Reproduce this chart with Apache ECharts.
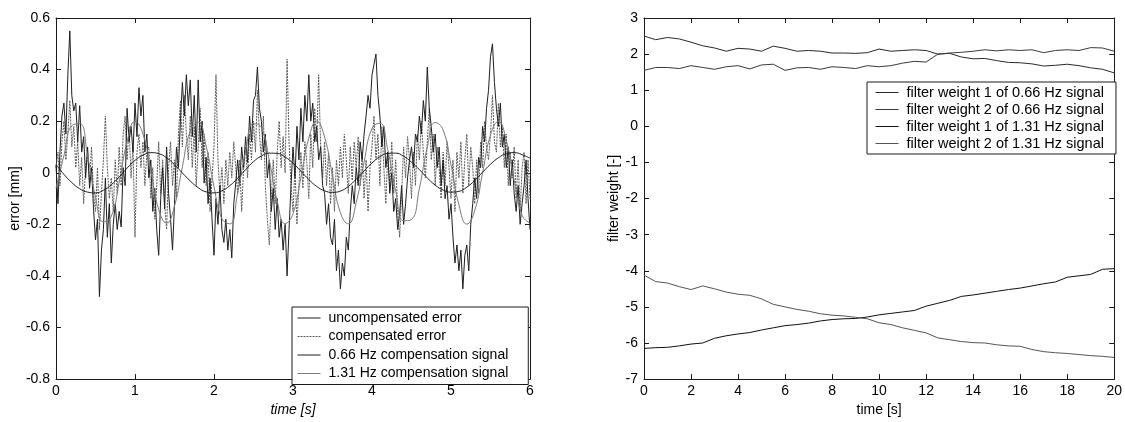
<!DOCTYPE html>
<html>
<head>
<meta charset="utf-8">
<script src="https://cdn.jsdelivr.net/npm/echarts@6/dist/echarts.min.js"></script>
<style>
  html, body { margin: 0; padding: 0; background: #fff; }
  #chart { width: 1125px; height: 422px; }
</style>
</head>
<body>
<div id="chart"></div>
<script>
// ---------- left panel: error signals over 0..6 s ----------
const errorStep = 0.025;          // s between samples of the error traces
const signalStep = 0.1;           // s between samples of the compensation signals

const uncompensatedError = [
  0.03, -0.12, 0.08, 0.22,   0.27, 0.15, 0.38, 0.55,   0.30, 0.24, 0.27, 0.12,   0.26, 0.08, 0.14, -0.02,
  0.10, -0.06, 0.02, -0.14,  -0.26, -0.18, -0.48, -0.30, -0.22, -0.02, -0.25, -0.12, -0.35, -0.20, -0.12, -0.22,
  -0.15, -0.21, 0.02, -0.05, 0.25, 0.12, 0.18, 0.08,   0.27, 0.14, 0.33, 0.22,   0.30, 0.08, 0.15, -0.02,
  0.05, -0.15, -0.06, -0.22, -0.32, -0.10, 0.02, -0.14, 0.10, -0.08, -0.18, -0.30, -0.12, 0.10, 0.02, 0.20,
  0.35, 0.22, 0.38, 0.26,   0.36, 0.14, 0.30, 0.08,   0.36, 0.12, 0.20, -0.04,  0.06, -0.12, -0.02, -0.18,
  -0.32, -0.10, -0.20, -0.05, -0.22, -0.27, -0.18, -0.30, -0.22, -0.33, -0.12, -0.04, 0.05, -0.05, 0.10, 0.02,
  0.14, 0.04, 0.22, 0.12,   0.28, 0.30, 0.41, 0.25,   0.20, 0.08, 0.15, -0.02,  0.05, -0.15, -0.06, -0.22,
  -0.10, -0.25, -0.18, -0.30, -0.20, -0.40, -0.22, -0.05, 0.10, -0.02, 0.18, 0.05,  0.25, 0.12, 0.30, 0.20,
  0.38, 0.20, 0.27, 0.12,   0.18, 0.05, 0.10, -0.05,  -0.08, -0.20, -0.12, -0.25, -0.28, -0.18, -0.38, -0.30,
  -0.45, -0.35, -0.40, -0.25, -0.30, -0.15, -0.05, -0.12, 0.02, -0.05, 0.12, 0.05,  0.15, 0.22, 0.30, 0.25,
  0.38, 0.42, 0.46, 0.30,   0.22, 0.10, 0.18, 0.02,   0.08, -0.08, 0.00, -0.15,  -0.10, -0.22, -0.16, -0.05,
  -0.20, -0.12, -0.02, 0.05, 0.10, 0.02, 0.15, 0.12,   0.22, 0.15, 0.28, 0.20,   0.41, 0.25, 0.18, 0.08,
  0.15, 0.02, 0.10, -0.05,  0.05, -0.10, -0.05, -0.18, -0.12, -0.25, -0.35, -0.28, -0.38, -0.30, -0.45, -0.32,
  -0.28, -0.38, -0.20, -0.12, -0.02, -0.10, 0.06, 0.02,  0.18, 0.12, 0.25, 0.32,   0.45, 0.50, 0.35, 0.25,
  0.18, 0.27, 0.10, 0.15,   0.02, 0.10, -0.05, 0.05,  -0.08, -0.15, -0.05, -0.20, -0.12, -0.05, 0.05, -0.10,
  -0.22
];

const compensatedError = [
  0.02, 0.08, -0.05, 0.12,   0.20, 0.05, 0.15, 0.28,   0.10, 0.18, 0.02, 0.12,   -0.05, 0.06, -0.12, 0.02,
  0.08, -0.04, 0.10, -0.08,  -0.15, 0.02, -0.22, -0.08,  0.05, 0.22, 0.02, -0.10,  -0.02, -0.15, 0.05, -0.08,
  0.10, -0.05, 0.15, 0.22,   0.05, 0.18, -0.02, 0.10,  -0.25, 0.08, 0.15, 0.02,   0.12, -0.05, 0.08, 0.10,
  -0.10, 0.02, -0.18, -0.05, 0.12, -0.08, 0.05, -0.12,  -0.22, 0.02, 0.12, -0.05,  0.05, -0.10, 0.15, 0.28,
  0.10, 0.30, 0.15, 0.05,   0.22, 0.02, 0.18, -0.05,   0.10, 0.25, 0.02, 0.15,   -0.05, 0.08, -0.15, -0.02,
  0.10, 0.38, 0.05, -0.08,  0.02, -0.12, 0.05, -0.05,  0.08, -0.02, 0.12, 0.02,   -0.08, 0.05, -0.15, 0.02,
  0.10, -0.02, 0.15, 0.05,  0.20, 0.08, 0.32, 0.15,    0.05, 0.22, -0.05, -0.18,  -0.28, -0.10, 0.05, -0.12,
  0.08, 0.20, 0.02, 0.14,   0.00, 0.44, 0.12, -0.05,   -0.15, 0.02, -0.20, -0.05, 0.08, -0.06, 0.12, 0.04,
  -0.10, 0.15, 0.02, 0.25,  0.12, 0.38, 0.10, -0.02,   0.12, -0.05, 0.08, -0.12,  0.02, -0.15, 0.05, -0.05,
  0.10, -0.02, 0.15, 0.05,  -0.08, 0.10, -0.03, 0.12,  0.02, 0.14, -0.05, 0.08,   -0.10, 0.05, -0.15, 0.02,
  0.10, 0.22, 0.05, 0.15,   -0.05, 0.18, 0.02, -0.12,  0.08, -0.05, 0.12, -0.08,  0.05, -0.15, -0.25, -0.08,
  0.10, -0.02, 0.14, 0.05,  -0.10, 0.08, -0.05, 0.15,  0.05, 0.20, 0.08, -0.02,   0.12, 0.25, 0.05, 0.15,
  -0.05, 0.10, 0.02, -0.10, 0.08, -0.05, 0.12, 0.02,   -0.10, 0.05, -0.15, 0.08,  -0.02, 0.12, -0.08, 0.05,
  0.15, -0.05, 0.10, 0.02,  -0.12, 0.05, -0.08, 0.12,  0.02, 0.20, 0.10, 0.05,    0.15, 0.30, 0.12, 0.08,
  0.27, 0.10, 0.18, 0.02,   0.15, -0.05, 0.08, -0.02,  0.10, -0.10, 0.05, -0.15,  0.02, 0.08, -0.12, 0.05,
  -0.10
];

const signal066 = [
  0.032, -0.006, -0.038, -0.062, -0.075, -0.078, -0.068, -0.046, -0.016, 0.018,
  0.048, 0.068, 0.078, 0.074, 0.058, 0.031, -0.001, -0.032, -0.058, -0.074,
  -0.078, -0.070, -0.050, -0.021, 0.012, 0.043, 0.065, 0.076, 0.075, 0.061,
  0.037, 0.006, -0.026, -0.053, -0.070, -0.076, -0.071, -0.053, -0.025, 0.007,
  0.038, 0.062, 0.075, 0.076, 0.064, 0.041, 0.012, -0.020, -0.048, -0.067,
  -0.075, -0.072, -0.056, -0.030, 0.002, 0.033, 0.058, 0.074, 0.078, 0.070,
  0.056
];

const signal131 = [
  -0.060, 0.066, 0.183, 0.190, 0.066, -0.094, -0.190, -0.169, -0.036, 0.120,
  0.199, 0.151, 0.006, -0.142, -0.195, -0.129, 0.024, 0.162, 0.196, 0.104,
  -0.054, -0.178, -0.198, -0.077, 0.083, 0.190, 0.175, 0.048, -0.110, -0.197,
  -0.159, -0.018, 0.134, 0.200, 0.138, -0.012, -0.155, -0.198, -0.115, 0.042,
  0.172, 0.192, 0.089, -0.071, -0.186, -0.181, -0.060, 0.099, 0.195, 0.166,
  0.031, -0.124, -0.199, -0.147, 0.000, 0.146, 0.199, 0.125, -0.030, -0.165,
  -0.195
];

// ---------- right panel: adaptive filter weights over 0..20 s ----------
const weightStep = 0.5;

const weight1Hz066 = [
  2.50, 2.40, 2.46, 2.42, 2.33, 2.23, 2.17, 2.08, 2.16, 2.14,
  2.08, 2.22, 2.16, 2.08, 2.10, 2.08, 2.03, 2.03, 2.02, 2.04,
  2.14, 2.08, 2.10, 2.12, 2.10, 2.00, 2.02, 1.92, 1.87, 1.88,
  1.82, 1.77, 1.76, 1.73, 1.67, 1.69, 1.72, 1.68, 1.62, 1.58,
  1.48
];
const weight2Hz066 = [
  1.55, 1.63, 1.63, 1.60, 1.68, 1.63, 1.58, 1.65, 1.68, 1.59,
  1.70, 1.72, 1.55, 1.62, 1.63, 1.58, 1.65, 1.63, 1.60, 1.68,
  1.65, 1.68, 1.75, 1.80, 1.78, 2.00, 2.03, 2.05, 2.08, 2.12,
  2.09, 2.12, 2.10, 2.12, 2.04, 2.10, 2.12, 2.10, 2.18, 2.17,
  2.08
];
const weight1Hz131 = [
  -6.15, -6.13, -6.12, -6.08, -6.03, -6.00, -5.87, -5.80, -5.75, -5.71,
  -5.64, -5.58, -5.52, -5.49, -5.45, -5.39, -5.35, -5.33, -5.32, -5.28,
  -5.22, -5.18, -5.14, -5.10, -4.98, -4.90, -4.82, -4.71, -4.67, -4.62,
  -4.57, -4.52, -4.48, -4.42, -4.36, -4.31, -4.18, -4.14, -4.10, -3.96,
  -3.94
];
const weight2Hz131 = [
  -4.12, -4.30, -4.34, -4.44, -4.52, -4.42, -4.50, -4.59, -4.65, -4.68,
  -4.78, -4.93, -5.00, -5.07, -5.12, -5.19, -5.23, -5.25, -5.29, -5.33,
  -5.44, -5.49, -5.58, -5.65, -5.72, -5.86, -5.91, -5.96, -5.99, -6.00,
  -6.05, -6.08, -6.09, -6.18, -6.24, -6.27, -6.29, -6.32, -6.35, -6.37,
  -6.40
];

const leftNames = [
  'uncompensated error',
  'compensated error',
  '0.66 Hz compensation signal',
  '1.31 Hz compensation signal'
];
const rightNames = [
  'filter weight 1 of 0.66 Hz signal',
  'filter weight 2 of 0.66 Hz signal',
  'filter weight 1 of 1.31 Hz signal',
  'filter weight 2 of 1.31 Hz signal'
];

// ---------- helpers ----------
const FONT = '"Liberation Sans", Arial, sans-serif';
const INK = '#1a1a1a';
const FS = 14;

function pairs(values, step) {
  return values.map((v, i) => [+(i * step).toFixed(3), v]);
}

function boxAxes(gridIndex, min, max, interval, isX, withName) {
  const common = {
    gridIndex, type: 'value', min, max, interval,
    splitLine: { show: false },
    axisLine: { show: true, onZero: false, lineStyle: { color: INK, width: 1 } },
    axisTick: { show: true, inside: true, length: 5, lineStyle: { color: INK } }
  };
  const main = Object.assign({}, common, {
    position: isX ? 'bottom' : 'left',
    axisLabel: { color: '#000', fontFamily: FONT, fontSize: FS, margin: isX ? 5 : 6 }
  }, withName || {});
  const opposite = Object.assign({}, common, {
    position: isX ? 'top' : 'right',
    axisLabel: { show: false }
  });
  return [main, opposite];
}

function lineSeries(name, data, xi, yi, color, type) {
  return {
    name, type: 'line', data, xAxisIndex: xi, yAxisIndex: yi,
    symbol: 'none', animation: false, silent: true,
    lineStyle: { color, width: 1, type: type || 'solid' },
    itemStyle: { color }
  };
}

// legend keys are plain line samples: the symbol part is hidden
const legendBase = {
  orient: 'vertical',
  itemWidth: 23, itemHeight: 14,
  itemStyle: { opacity: 0, borderWidth: 0 },
  lineStyle: { width: 1 },
  backgroundColor: '#fff',
  borderColor: INK, borderWidth: 1, borderRadius: 0,
  textStyle: { color: '#000', fontFamily: FONT, fontSize: FS, padding: [0, 0, 0, 3] },
  selectedMode: false
};

const nameStyle = { color: '#000', fontFamily: FONT, fontSize: FS };

const [lx0, lx1] = boxAxes(0, 0, 6, 1, true, {
  name: 'time [s]', nameLocation: 'middle', nameGap: 22,
  nameTextStyle: Object.assign({ fontStyle: 'italic' }, nameStyle)
});
const [ly0, ly1] = boxAxes(0, -0.8, 0.6, 0.2, false, {
  name: 'error [mm]', nameLocation: 'middle', nameGap: 34, nameTextStyle: nameStyle
});
const [rx0, rx1] = boxAxes(1, 0, 20, 2, true, {
  name: 'time [s]', nameLocation: 'middle', nameGap: 22, nameTextStyle: nameStyle
});
const [ry0, ry1] = boxAxes(1, -7, 3, 1, false, {
  name: 'filter weight [-]', nameLocation: 'middle', nameGap: 23, nameTextStyle: nameStyle
});

const option = {
  backgroundColor: '#fff',
  animation: false,
  grid: [
    { left: 56, right: 595, top: 18, bottom: 35 },
    { left: 644, right: 8, top: 18, bottom: 36 }
  ],
  xAxis: [lx0, lx1, rx0, rx1],
  yAxis: [ly0, ly1, ry0, ry1],
  legend: [
    Object.assign({}, legendBase, {
      data: leftNames, left: 292, top: 307, itemGap: 4.5, padding: [4, 20, 4, 5]
    }),
    Object.assign({}, legendBase, {
      data: rightNames, left: 867, top: 82, itemGap: 2, padding: [3, 12, 3, 8],
      textStyle: Object.assign({}, legendBase.textStyle, { fontSize: 14.5 })
    })
  ],
  series: [
    lineSeries(leftNames[1], pairs(compensatedError, errorStep), 0, 0, '#5a5a5a', [2, 1]),
    lineSeries(leftNames[0], pairs(uncompensatedError, errorStep), 0, 0, '#1e1e1e'),
    lineSeries(leftNames[3], pairs(signal131, signalStep), 0, 0, '#7a7a7a'),
    lineSeries(leftNames[2], pairs(signal066, signalStep), 0, 0, '#202020'),
    lineSeries(rightNames[0], pairs(weight1Hz066, weightStep), 2, 2, '#2a2a2a'),
    lineSeries(rightNames[1], pairs(weight2Hz066, weightStep), 2, 2, '#3a3a3a'),
    lineSeries(rightNames[2], pairs(weight1Hz131, weightStep), 2, 2, '#111111'),
    lineSeries(rightNames[3], pairs(weight2Hz131, weightStep), 2, 2, '#555555')
  ]
};
option.series[2].smooth = true;
option.series[3].smooth = true;

const chart = echarts.init(document.getElementById('chart'), null, { renderer: 'canvas' });
chart.setOption(option);
</script>
</body>
</html>
